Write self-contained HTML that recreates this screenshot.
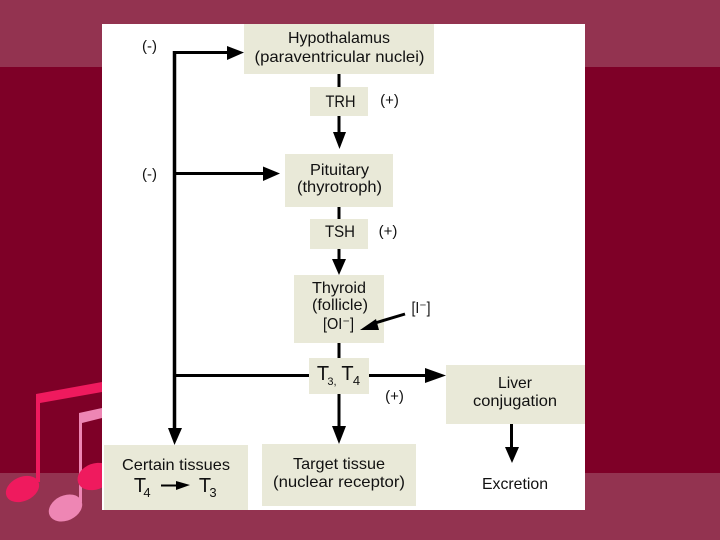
<!DOCTYPE html>
<html><head><meta charset="utf-8"><style>
html,body{margin:0;padding:0;width:720px;height:540px;overflow:hidden;background:#7e0027}
svg{display:block}
text{font-family:"Liberation Sans",sans-serif;fill:#111;text-anchor:middle}
</style></head><body>
<svg width="720" height="540" viewBox="0 0 720 540" xmlns="http://www.w3.org/2000/svg" font-size="16">
<rect width="720" height="540" fill="#7e0027"/>
<rect width="720" height="67" fill="#933350"/>
<rect y="473" width="720" height="67" fill="#933350"/>
<!-- notes -->
<polygon points="36,394 102,382 102,392 40,403 40,482 36,482" fill="#ef1a5e"/>
<ellipse cx="22.500" cy="489" rx="17.500" ry="12" transform="rotate(-25 22.500 489)" fill="#ef1a5e"/>
<polygon points="79,413 102,408 102,418 82,423 82,502 79,502" fill="#ee86b4"/>
<ellipse cx="65.500" cy="508" rx="17.500" ry="12.500" transform="rotate(-25 65.500 508)" fill="#ee86b4"/>
<ellipse cx="95" cy="476.500" rx="18" ry="13" transform="rotate(-20 95 476.500)" fill="#ef1a5e"/>
<!-- panel -->
<rect x="102" y="24" width="483" height="486" fill="#fff"/>
<!-- boxes -->
<g fill="#e9e9d8">
<rect x="244" y="24" width="190" height="50"/>
<rect x="310" y="87" width="58" height="29"/>
<rect x="285" y="154" width="108" height="53"/>
<rect x="310" y="219" width="58" height="30"/>
<rect x="294" y="275" width="90" height="68"/>
<rect x="309" y="358" width="60" height="36"/>
<rect x="446" y="365" width="139" height="59"/>
<rect x="262" y="444" width="154" height="62"/>
<rect x="104" y="445" width="144" height="65"/>
</g>
<!-- lines -->
<g stroke="#000" stroke-width="3" fill="none">
<path d="M174.500 51V431" stroke-width="3.500"/>
<path d="M173 52.500H230"/>
<path d="M174 173.500H265"/>
<path d="M174 375.500H309"/>
<path d="M369 375.500H428"/>
<path d="M339 74V87"/>
<path d="M339 116V134"/>
<path d="M339 207V219"/>
<path d="M339 249V262"/>
<path d="M339 343V358"/>
<path d="M339 394V428"/>
<path d="M511.500 424V447"/>
<path d="M405 314L375 323"/>
</g>
<!-- arrowheads -->
<g fill="#000">
<polygon points="227,46 244,52.500 227,60"/>
<polygon points="263,166.500 280,173.500 263,181"/>
<polygon points="425,368 446,375.500 425,383"/>
<polygon points="333,132 346,132 339.500,149"/>
<polygon points="332,259 346,259 339,275"/>
<polygon points="332,426 346,426 339,444"/>
<polygon points="168,428 182,428 174.500,445"/>
<polygon points="505,447 519,447 512,463"/>
<polygon points="360,330 376,319 379,330"/>
<polygon points="176,481 176,490 190,485"/>
</g>
<path d="M161 485.500H178" stroke="#000" stroke-width="2"/>
<!-- labels -->
<text x="339" y="43" textLength="102" lengthAdjust="spacingAndGlyphs">Hypothalamus</text>
<text x="339.500" y="62" textLength="170" lengthAdjust="spacingAndGlyphs">(paraventricular nuclei)</text>
<text x="340.500" y="107" textLength="30" lengthAdjust="spacingAndGlyphs" font-size="17">TRH</text>
<text x="339.500" y="175" textLength="59" lengthAdjust="spacingAndGlyphs">Pituitary</text>
<text x="339.500" y="192" textLength="85" lengthAdjust="spacingAndGlyphs">(thyrotroph)</text>
<text x="340" y="237" textLength="30" lengthAdjust="spacingAndGlyphs" font-size="17">TSH</text>
<text x="339" y="293" textLength="54" lengthAdjust="spacingAndGlyphs">Thyroid</text>
<text x="340" y="310" textLength="56" lengthAdjust="spacingAndGlyphs">(follicle)</text>
<text x="338.500" y="329" textLength="31" lengthAdjust="spacingAndGlyphs">[OI⁻]</text>
<text x="149.500" y="51" font-size="15">(-)</text>
<text x="149.500" y="179" font-size="15">(-)</text>
<text x="389.500" y="105" font-size="15">(+)</text>
<text x="388" y="236" font-size="15">(+)</text>
<text x="394.500" y="401" font-size="15">(+)</text>
<text x="421" y="313" textLength="19" lengthAdjust="spacingAndGlyphs">[I⁻]</text>
<text x="323" y="380" font-size="20">T</text><text x="332" y="385" font-size="11">3,</text>
<text x="347.500" y="380" font-size="20">T</text><text x="356.500" y="385" font-size="13">4</text>
<text x="515" y="388" textLength="34" lengthAdjust="spacingAndGlyphs">Liver</text>
<text x="515" y="406" textLength="84" lengthAdjust="spacingAndGlyphs">conjugation</text>
<text x="339" y="469" textLength="92" lengthAdjust="spacingAndGlyphs">Target tissue</text>
<text x="339" y="487" textLength="132" lengthAdjust="spacingAndGlyphs">(nuclear receptor)</text>
<text x="515" y="489" textLength="66" lengthAdjust="spacingAndGlyphs">Excretion</text>
<text x="176" y="470" textLength="108" lengthAdjust="spacingAndGlyphs">Certain tissues</text>
<text x="140" y="492" font-size="20">T</text><text x="147" y="497" font-size="13">4</text>
<text x="205" y="492" font-size="20">T</text><text x="213" y="497" font-size="13">3</text>
</svg>
</body></html>
